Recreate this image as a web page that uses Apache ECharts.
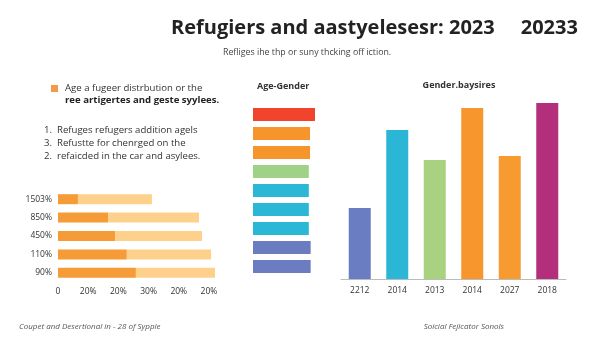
<!DOCTYPE html>
<html><head><meta charset="utf-8">
<script src="https://cdn.jsdelivr.net/npm/echarts@6/dist/echarts.min.js"></script>
<style>html,body{margin:0;padding:0;background:#fff}#c{width:600px;height:338px}</style>
</head><body><div id="c"></div>
<script>
// Left stacked horizontal bars
const leftCats = ['1503%', '850%', '450%', '110%', '90%'];
const leftDark = [0.66, 1.66, 1.89, 2.28, 2.58];
const leftTotal = [3.11, 4.67, 4.77, 5.07, 5.2];
const leftTicks = ['0', '20%', '20%', '30%', '20%', '20%'];
// Middle Age-Gender bars
const midCats = ['a1', 'a2', 'a3', 'a4', 'a5', 'a6', 'a7', 'a8', 'a9'];
const midVals = [100, 92, 92, 90, 90, 90, 90, 93, 93];
const midColors = ['#f2432c', '#f7952d', '#f7952d', '#9fd286', '#2bb7d6', '#2bb7d6', '#2bb7d6', '#6b7cc0', '#6b7cc0'];
// Right Gender bars
const rightCats = ['2212', '2014', '2013', '2014', '2027', '2018'];
const rightVals = [71, 149, 119, 171, 123, 176];
const rightColors = ['#6a7dc2', '#2cb6d6', '#a8d27f', '#f7962c', '#f79a30', '#b32f7c'];

const leftLight = leftTotal.map((t, i) => +(t - leftDark[i]).toFixed(2));
const F = '"Open Sans", "Noto Sans", sans-serif';
const chart = echarts.init(document.getElementById('c'));
chart.setOption({
  backgroundColor: '#fff',
  animation: false,
  title: [
    {text: 'Refugiers and aastyelesesr: 2023     20233', left: 166, top: 13,
     textStyle: {fontFamily: F, fontSize: 20, fontWeight: 'bold', color: '#222'}},
    {text: 'Refliges ihe thp or suny thcking off iction.', left: 218, top: 43,
     textStyle: {fontFamily: F, fontSize: 8.8, fontWeight: 'normal', color: '#444'}},
    {text: 'Age-Gender', left: 252, top: 77,
     textStyle: {fontFamily: F, fontSize: 9, fontWeight: 'bold', color: '#333'}},
    {text: 'Gender.baysires', left: 454, textAlign: 'center', top: 76,
     textStyle: {fontFamily: F, fontSize: 9, fontWeight: 'bold', color: '#333'}},
    {text: 'Coupet and Desertional in - 28 of Sypple', left: 14, top: 318,
     textStyle: {fontFamily: F, fontSize: 8, fontStyle: 'italic', fontWeight: 'normal', color: '#555'}},
    {text: 'Soicial Fejicator Sonols', right: 91, top: 318,
     textStyle: {fontFamily: F, fontSize: 8, fontStyle: 'italic', fontWeight: 'normal', color: '#555'}}
  ],
  graphic: [
    {type: 'rect', shape: {x: 51, y: 85, width: 7, height: 7}, style: {fill: '#f39a4a'}},
    {type: 'text', style: {x: 65, y: 83, text: 'Age a fugeer distrbution or the', font: '9.6px ' + F, fill: '#333'}},
    {type: 'text', style: {x: 65, y: 95, text: 'ree artigertes and geste syylees.', font: 'bold 9.6px ' + F, fill: '#222'}},
    {type: 'text', style: {x: 44, y: 125, text: '1.  Refuges refugers addition agels', font: '9.6px ' + F, fill: '#333'}},
    {type: 'text', style: {x: 44, y: 138, text: '3.  Refustte for chenrged on the', font: '9.6px ' + F, fill: '#333'}},
    {type: 'text', style: {x: 44, y: 151, text: '2.  refaicded in the car and asylees.', font: '9.6px ' + F, fill: '#333'}}
  ],
  grid: [
    {left: 58, top: 190, width: 157, height: 92},
    {left: 253, top: 105, width: 62, height: 171},
    {left: 341, top: 99, width: 225, height: 180}
  ],
  xAxis: [
    {gridIndex: 0, type: 'value', min: 0, max: 5.2, interval: 1,
     axisLine: {show: false}, axisTick: {show: false}, splitLine: {show: false},
     axisLabel: {fontFamily: F, fontSize: 8.5, color: '#333', margin: 5, showMaxLabel: false,
       formatter: v => (Number.isInteger(v) && leftTicks[v] !== undefined) ? leftTicks[v] : ''}},
    {gridIndex: 1, type: 'value', min: 0, max: 100, show: false},
    {gridIndex: 2, type: 'category', data: rightCats,
     axisLine: {lineStyle: {color: '#bbb'}}, axisTick: {show: false},
     axisLabel: {fontFamily: F, fontSize: 8.5, color: '#333', margin: 7}}
  ],
  yAxis: [
    {gridIndex: 0, type: 'category', data: leftCats, inverse: true,
     axisLine: {show: false}, axisTick: {show: false},
     axisLabel: {fontFamily: F, fontSize: 8.5, color: '#333', margin: 6}},
    {gridIndex: 1, type: 'category', data: midCats, inverse: true, show: false},
    {gridIndex: 2, type: 'value', min: 0, max: 180, show: false}
  ],
  series: [
    {type: 'bar', xAxisIndex: 0, yAxisIndex: 0, stack: 'l', data: leftDark, barWidth: 10,
     itemStyle: {color: '#f59b37'}},
    {type: 'bar', xAxisIndex: 0, yAxisIndex: 0, stack: 'l', data: leftLight, barWidth: 10,
     itemStyle: {color: '#fdd18c'}},
    {type: 'bar', xAxisIndex: 1, yAxisIndex: 1, barWidth: 13,
     data: midVals.map((v, i) => ({value: v, itemStyle: {color: midColors[i]}}))},
    {type: 'bar', xAxisIndex: 2, yAxisIndex: 2, barWidth: 22,
     data: rightVals.map((v, i) => ({value: v, itemStyle: {color: rightColors[i]}}))}
  ]
});
</script></body></html>
